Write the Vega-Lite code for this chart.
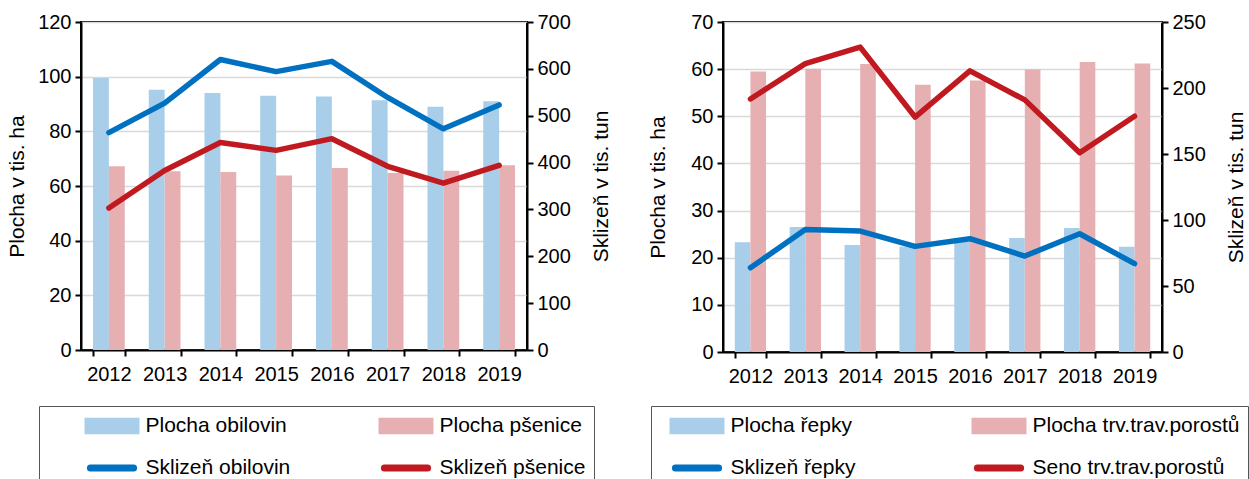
{
  "$schema": "https://vega.github.io/schema/vega-lite/v6.json",
  "background": "white",
  "padding": {"left": 5, "top": 11, "right": 0, "bottom": 0},
  "spacing": 33,
  "config": {
    "font": "Liberation Sans",
    "view": {"stroke": "black", "strokeWidth": 2},
    "axis": {
      "labelFont": "Liberation Sans", "labelFontSize": 20, "labelColor": "black",
      "titleFont": "Liberation Sans", "titleFontSize": 21, "titleFontWeight": "normal", "titleColor": "black",
      "domainColor": "black", "domainWidth": 2, "tickColor": "black", "tickWidth": 2, "tickSize": 6,
      "gridColor": "#d9d9d9", "gridWidth": 1.5, "labelPadding": 4
    },
    "legend": {
      "labelFont": "Liberation Sans", "labelFontSize": 21, "labelColor": "black", "labelLimit": 400
    }
  },
  "datasets": {
    "leftBars": [
      {"year": "2012", "series": "Plocha obilovin", "value": 99.5},
      {"year": "2013", "series": "Plocha obilovin", "value": 95.2},
      {"year": "2014", "series": "Plocha obilovin", "value": 94.0},
      {"year": "2015", "series": "Plocha obilovin", "value": 93.0},
      {"year": "2016", "series": "Plocha obilovin", "value": 92.7},
      {"year": "2017", "series": "Plocha obilovin", "value": 91.4},
      {"year": "2018", "series": "Plocha obilovin", "value": 89.0},
      {"year": "2019", "series": "Plocha obilovin", "value": 91.0},
      {"year": "2012", "series": "Plocha pšenice", "value": 67.2},
      {"year": "2013", "series": "Plocha pšenice", "value": 65.4},
      {"year": "2014", "series": "Plocha pšenice", "value": 65.1},
      {"year": "2015", "series": "Plocha pšenice", "value": 63.8},
      {"year": "2016", "series": "Plocha pšenice", "value": 66.6},
      {"year": "2017", "series": "Plocha pšenice", "value": 64.8},
      {"year": "2018", "series": "Plocha pšenice", "value": 65.6},
      {"year": "2019", "series": "Plocha pšenice", "value": 67.6}
    ],
    "leftLines": [
      {"year": "2012", "series": "Sklizeň obilovin", "value": 464},
      {"year": "2013", "series": "Sklizeň obilovin", "value": 527},
      {"year": "2014", "series": "Sklizeň obilovin", "value": 620},
      {"year": "2015", "series": "Sklizeň obilovin", "value": 594},
      {"year": "2016", "series": "Sklizeň obilovin", "value": 616},
      {"year": "2017", "series": "Sklizeň obilovin", "value": 539},
      {"year": "2018", "series": "Sklizeň obilovin", "value": 472},
      {"year": "2019", "series": "Sklizeň obilovin", "value": 523},
      {"year": "2012", "series": "Sklizeň pšenice", "value": 303},
      {"year": "2013", "series": "Sklizeň pšenice", "value": 383},
      {"year": "2014", "series": "Sklizeň pšenice", "value": 443},
      {"year": "2015", "series": "Sklizeň pšenice", "value": 426},
      {"year": "2016", "series": "Sklizeň pšenice", "value": 451},
      {"year": "2017", "series": "Sklizeň pšenice", "value": 392},
      {"year": "2018", "series": "Sklizeň pšenice", "value": 356},
      {"year": "2019", "series": "Sklizeň pšenice", "value": 394}
    ],
    "rightBars": [
      {"year": "2012", "series": "Plocha řepky", "value": 23.3},
      {"year": "2013", "series": "Plocha řepky", "value": 26.5},
      {"year": "2014", "series": "Plocha řepky", "value": 22.7},
      {"year": "2015", "series": "Plocha řepky", "value": 22.4},
      {"year": "2016", "series": "Plocha řepky", "value": 23.4},
      {"year": "2017", "series": "Plocha řepky", "value": 24.2},
      {"year": "2018", "series": "Plocha řepky", "value": 26.3},
      {"year": "2019", "series": "Plocha řepky", "value": 22.3},
      {"year": "2012", "series": "Plocha trv.trav.porostů", "value": 59.5},
      {"year": "2013", "series": "Plocha trv.trav.porostů", "value": 60.1},
      {"year": "2014", "series": "Plocha trv.trav.porostů", "value": 61.1},
      {"year": "2015", "series": "Plocha trv.trav.porostů", "value": 56.7},
      {"year": "2016", "series": "Plocha trv.trav.porostů", "value": 57.6},
      {"year": "2017", "series": "Plocha trv.trav.porostů", "value": 59.9},
      {"year": "2018", "series": "Plocha trv.trav.porostů", "value": 61.5},
      {"year": "2019", "series": "Plocha trv.trav.porostů", "value": 61.2}
    ],
    "rightLines": [
      {"year": "2012", "series": "Sklizeň řepky", "value": 63.8},
      {"year": "2013", "series": "Sklizeň řepky", "value": 92.8},
      {"year": "2014", "series": "Sklizeň řepky", "value": 91.6},
      {"year": "2015", "series": "Sklizeň řepky", "value": 80.0},
      {"year": "2016", "series": "Sklizeň řepky", "value": 85.8},
      {"year": "2017", "series": "Sklizeň řepky", "value": 72.7},
      {"year": "2018", "series": "Sklizeň řepky", "value": 89.6},
      {"year": "2019", "series": "Sklizeň řepky", "value": 66.9},
      {"year": "2012", "series": "Seno trv.trav.porostů", "value": 191.7},
      {"year": "2013", "series": "Seno trv.trav.porostů", "value": 218.5},
      {"year": "2014", "series": "Seno trv.trav.porostů", "value": 231.0},
      {"year": "2015", "series": "Seno trv.trav.porostů", "value": 178.0},
      {"year": "2016", "series": "Seno trv.trav.porostů", "value": 213.0},
      {"year": "2017", "series": "Seno trv.trav.porostů", "value": 191.0},
      {"year": "2018", "series": "Seno trv.trav.porostů", "value": 151.0},
      {"year": "2019", "series": "Seno trv.trav.porostů", "value": 178.6}
    ]
  },
  "resolve": {"scale": {"y": "independent", "color": "independent", "xOffset": "independent"}, "legend": {"color": "independent"}},
  "hconcat": [
    {
      "width": 446,
      "height": 328,
      "layer": [
        {
          "data": {"name": "leftBars"},
          "mark": {"type": "bar"},
          "encoding": {
            "x": {"field": "year", "type": "ordinal", "scale": {"paddingInner": 0.43, "paddingOuter": 0.215},
                  "axis": {"title": null, "labelAngle": 0, "tickBand": "extent", "grid": false, "labelPadding": 8}},
            "xOffset": {"field": "series", "type": "nominal", "scale": {"domain": ["Plocha obilovin", "Plocha pšenice"], "paddingInner": 0, "paddingOuter": 0}},
            "y": {"field": "value", "type": "quantitative", "scale": {"domain": [0, 120]},
                  "axis": {"title": "Plocha v tis. ha", "values": [0, 20, 40, 60, 80, 100, 120], "grid": true, "titlePadding": 10}},
            "color": {
              "field": "series", "type": "nominal",
              "scale": {"domain": ["Plocha obilovin", "Sklizeň obilovin", "Plocha pšenice", "Sklizeň pšenice"],
                        "range": ["#a9cee9", "#0070c0", "#e6afb2", "#c0191f"]},
              "legend": {
                "orient": "none", "legendX": -42, "legendY": 384, "title": null, "columns": 2,
                "padding": 8, "symbolOffset": 37.5, "labelOffset": 6, "columnPadding": 50, "rowPadding": 18,
                "clipHeight": 24, "symbolSize": 2304, "symbolStrokeWidth": 7, "strokeColor": "#555555",
                "encode": {
                  "symbols": {"update": {
                    "shape": {"signal": "indexof(datum.value, 'Plocha') === 0 ? 'M-1,-0.2H1V0.2H-1Z' : 'M-0.9,0H0.9'"},
                    "fill": {"signal": "datum.value === 'Plocha obilovin' ? '#a9cee9' : datum.value === 'Plocha pšenice' ? '#e6afb2' : 'transparent'"},
                    "stroke": {"signal": "datum.value === 'Sklizeň obilovin' ? '#0070c0' : datum.value === 'Sklizeň pšenice' ? '#c0191f' : 'transparent'"},
                    "strokeCap": {"value": "round"}
                  }}
                }
              }
            }
          }
        },
        {
          "data": {"name": "leftLines"},
          "mark": {"type": "line", "strokeWidth": 5.5, "strokeCap": "round", "strokeJoin": "round"},
          "encoding": {
            "x": {"field": "year", "type": "ordinal"},
            "y": {"field": "value", "type": "quantitative", "scale": {"domain": [0, 700]},
                  "axis": {"title": "Sklizeň v tis. tun", "orient": "right", "values": [0, 100, 200, 300, 400, 500, 600, 700], "grid": false, "titleAngle": 270, "titleBaseline": "top", "titlePadding": 20}},
            "color": {"field": "series", "type": "nominal"}
          }
        }
      ],
      "resolve": {"scale": {"y": "independent"}}
    },
    {
      "width": 439,
      "height": 330,
      "layer": [
        {
          "data": {"name": "rightBars"},
          "mark": {"type": "bar"},
          "encoding": {
            "x": {"field": "year", "type": "ordinal", "scale": {"paddingInner": 0.43, "paddingOuter": 0.215},
                  "axis": {"title": null, "labelAngle": 0, "tickBand": "extent", "grid": false, "labelPadding": 8}},
            "xOffset": {"field": "series", "type": "nominal", "scale": {"domain": ["Plocha řepky", "Plocha trv.trav.porostů"], "paddingInner": 0, "paddingOuter": 0}},
            "y": {"field": "value", "type": "quantitative", "scale": {"domain": [0, 70]},
                  "axis": {"title": "Plocha v tis. ha", "values": [0, 10, 20, 30, 40, 50, 60, 70], "grid": true, "titlePadding": 22}},
            "color": {
              "field": "series", "type": "nominal",
              "scale": {"domain": ["Plocha řepky", "Sklizeň řepky", "Plocha trv.trav.porostů", "Seno trv.trav.porostů"],
                        "range": ["#a9cee9", "#0070c0", "#e6afb2", "#c0191f"]},
              "legend": {
                "orient": "none", "legendX": -72, "legendY": 384, "title": null, "columns": 2,
                "padding": 8, "symbolOffset": 10.5, "labelOffset": 6, "columnPadding": 105, "rowPadding": 18,
                "clipHeight": 24, "symbolSize": 2304, "symbolStrokeWidth": 7, "strokeColor": "#555555",
                "encode": {
                  "symbols": {"update": {
                    "shape": {"signal": "indexof(datum.value, 'Plocha') === 0 ? 'M-1,-0.2H1V0.2H-1Z' : 'M-0.9,0H0.9'"},
                    "fill": {"signal": "datum.value === 'Plocha řepky' ? '#a9cee9' : datum.value === 'Plocha trv.trav.porostů' ? '#e6afb2' : 'transparent'"},
                    "stroke": {"signal": "datum.value === 'Sklizeň řepky' ? '#0070c0' : datum.value === 'Seno trv.trav.porostů' ? '#c0191f' : 'transparent'"},
                    "strokeCap": {"value": "round"}
                  }}
                }
              }
            }
          }
        },
        {
          "data": {"name": "rightLines"},
          "mark": {"type": "line", "strokeWidth": 5.5, "strokeCap": "round", "strokeJoin": "round"},
          "encoding": {
            "x": {"field": "year", "type": "ordinal"},
            "y": {"field": "value", "type": "quantitative", "scale": {"domain": [0, 250]},
                  "axis": {"title": "Sklizeň v tis. tun", "orient": "right", "values": [0, 50, 100, 150, 200, 250], "grid": false, "titleAngle": 270, "titleBaseline": "top", "titlePadding": 20}},
            "color": {"field": "series", "type": "nominal"}
          }
        }
      ],
      "resolve": {"scale": {"y": "independent"}}
    }
  ]
}
